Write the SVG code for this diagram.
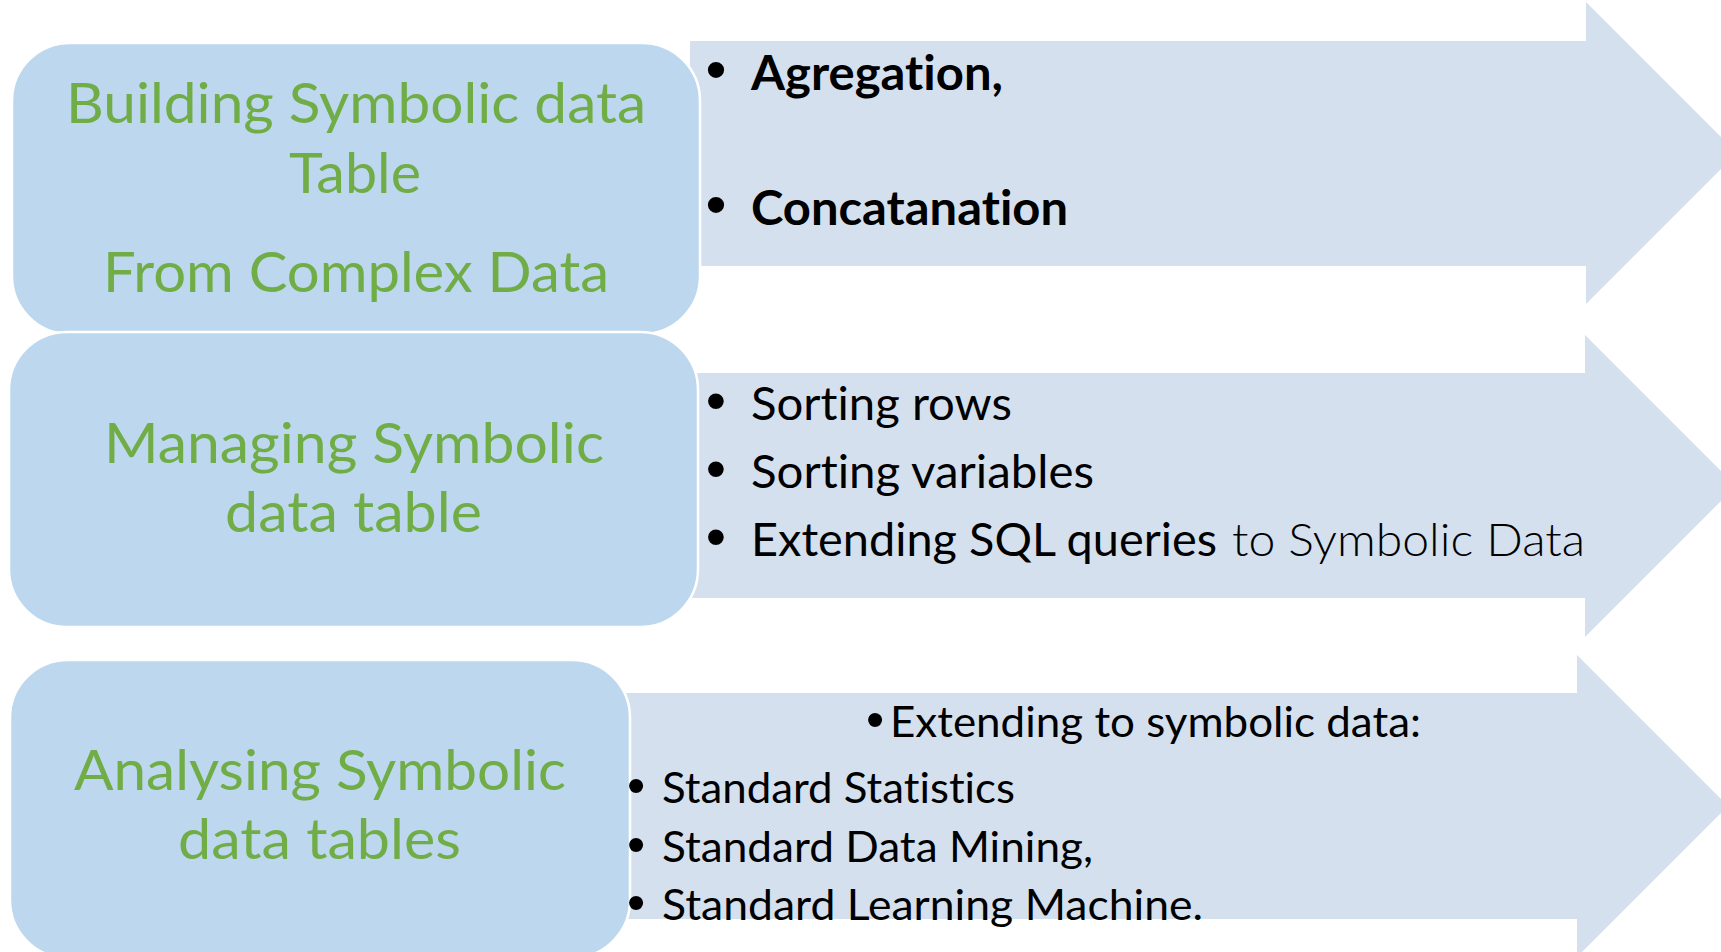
<svg xmlns="http://www.w3.org/2000/svg" width="1721" height="952" viewBox="0 0 1721 952">
<style>
text{font-variant-ligatures:none;font-feature-settings:"liga" 0,"clig" 0;}
.arrow{fill:#D5E0EF;}
.box{fill:#BDD7EE;stroke:#FFFFFF;stroke-width:2.5;}
.g{font-family:Lato,"Liberation Sans",sans-serif;font-size:56px;fill:#70AD47;}
.b1{font-family:Lato,"Liberation Sans",sans-serif;font-size:47px;font-weight:700;fill:#000;}
.t2{font-family:Lato,"Liberation Sans",sans-serif;font-size:46px;fill:#000;}
.lt{font-weight:300;}
.t3{font-family:Lato,"Liberation Sans",sans-serif;font-size:42px;fill:#000;}
.bu{font-family:"Liberation Sans",Arial,sans-serif;fill:#000;text-anchor:middle;}
</style>
<rect width="1721" height="952" fill="#FFFFFF"/>
<g id="connectors">
<polygon id="arrow1" class="arrow" points="690,41 1586,41 1586,2 1737,153 1586,304 1586,266 690,266"/>
<polygon id="arrow2" class="arrow" points="690,373 1585,373 1585,335 1736,486 1585,637 1585,598 690,598"/>
<polygon id="arrow3" class="arrow" points="620,693 1577,693 1577,655 1728,806 1577,957 1577,919 620,919"/>
</g>
<g id="node-building">
<rect class="box" x="12" y="43" width="688" height="291" rx="58" ry="58"/>
<text class="g" x="66" y="123" textLength="580" lengthAdjust="spacingAndGlyphs">Building Symbolic data</text>
<text class="g" x="289" y="193" textLength="132" lengthAdjust="spacingAndGlyphs">Table</text>
<text class="g" x="103" y="292" textLength="506" lengthAdjust="spacingAndGlyphs">From Complex Data</text>
</g>
<g id="node-managing">
<rect class="box" x="9" y="332" width="689" height="295" rx="58" ry="58"/>
<text class="g" x="104" y="463" textLength="500" lengthAdjust="spacingAndGlyphs">Managing Symbolic</text>
<text class="g" x="225" y="532" textLength="257" lengthAdjust="spacingAndGlyphs">data table</text>
</g>
<g id="node-analysing">
<rect class="box" x="10" y="660" width="620" height="298" rx="58" ry="58"/>
<text class="g" x="74" y="790" textLength="492" lengthAdjust="spacingAndGlyphs">Analysing Symbolic</text>
<text class="g" x="178" y="859" textLength="283" lengthAdjust="spacingAndGlyphs">data tables</text>
</g>
<g id="node-list1">
<text class="bu" x="716" y="90" font-size="60">•</text>
<text class="b1" x="751" y="90" textLength="252" lengthAdjust="spacingAndGlyphs">Agregation,</text>
<text class="bu" x="716" y="225" font-size="60">•</text>
<text class="b1" x="751" y="225" textLength="317" lengthAdjust="spacingAndGlyphs">Concatanation</text>
</g>
<g id="node-list2">
<text class="bu" x="716" y="420" font-size="58">•</text>
<text class="t2" x="751" y="420" textLength="261" lengthAdjust="spacingAndGlyphs">Sorting rows</text>
<text class="bu" x="716" y="488" font-size="58">•</text>
<text class="t2" x="751" y="488" textLength="343" lengthAdjust="spacingAndGlyphs">Sorting variables</text>
<text class="bu" x="716" y="556" font-size="58">•</text>
<text class="t2" y="556"><tspan x="751" textLength="466" lengthAdjust="spacingAndGlyphs">Extending SQL queries</tspan> <tspan class="lt" x="1232" textLength="353" lengthAdjust="spacingAndGlyphs">to Symbolic Data</tspan></text>
</g>
<g id="node-list3">
<text class="bu" x="875" y="737" font-size="52">•</text>
<text class="t3" x="890" y="737" textLength="531" lengthAdjust="spacingAndGlyphs">Extending to symbolic data:</text>
<text class="bu" x="636" y="803" font-size="52">•</text>
<text class="t3" x="662" y="803" textLength="353" lengthAdjust="spacingAndGlyphs">Standard Statistics</text>
<text class="bu" x="636" y="862" font-size="52">•</text>
<text class="t3" x="662" y="862" textLength="431" lengthAdjust="spacingAndGlyphs">Standard Data Mining,</text>
<text class="bu" x="636" y="920" font-size="52">•</text>
<text class="t3" x="662" y="920" textLength="541" lengthAdjust="spacingAndGlyphs">Standard Learning Machine.</text>
</g>
</svg>
